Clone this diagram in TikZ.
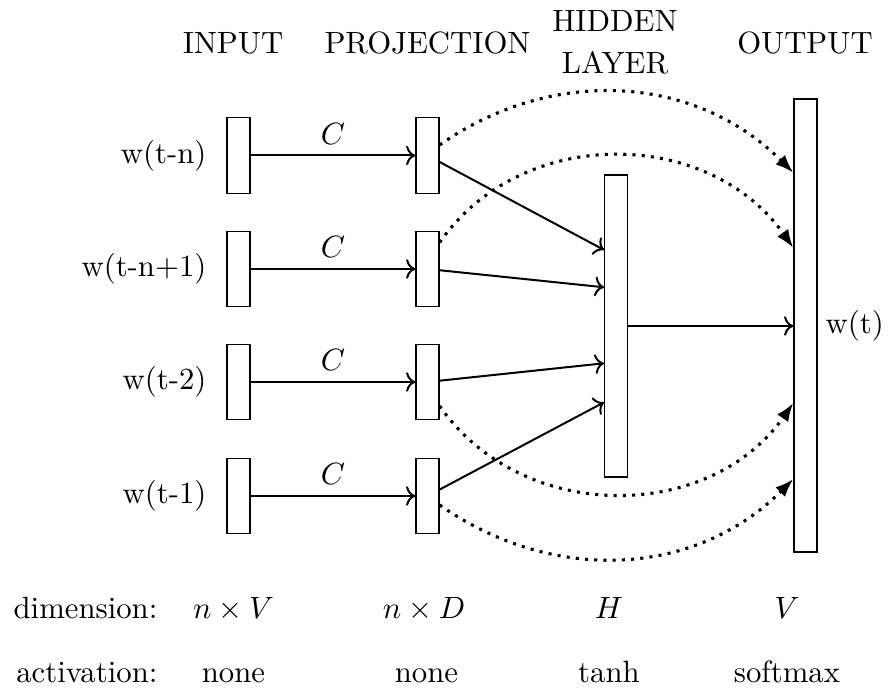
\documentclass[tikz,border=0pt]{standalone}
\usetikzlibrary{arrows.meta,calc}
\begin{document}
\begin{tikzpicture}[x=0.325pt,y=0.325pt,
  unitbox/.style={draw,rectangle,inner sep=0pt,minimum width={23*0.325pt},minimum height={75.5*0.325pt}},
  tallbox/.style={draw,rectangle,inner sep=0pt,minimum width={23*0.325pt},minimum height={#1*0.325pt}},
  arr/.style={->,line width=0.65pt},
  dotarr/.style={dotted,line width=1pt,-{Latex[length=6pt,width=4.4pt]}},
  lbl/.style={inner sep=0pt}
]
\useasboundingbox (0,0) rectangle (893,699);

% headers
\node[anchor=base] (hin) at (233,645.7) {INPUT};
\node[anchor=base] (hpr) at (427.5,645.7) {PROJECTION};
\node[align=center,font=\fontsize{10}{13.45}\selectfont] (hhid) at (615,656.5) {HIDDEN\\LAYER};
\node[anchor=base] (hout) at (805,645.7) {OUTPUT};

% input boxes
\node[unitbox] (i1) at (238.5,543.5) {};
\node[unitbox] (i2) at (238.5,430) {};
\node[unitbox] (i3) at (238.5,317) {};
\node[unitbox] (i4) at (238.5,203) {};

% projection boxes
\node[unitbox] (p1) at (427.5,543.5) {};
\node[unitbox] (p2) at (427.5,430) {};
\node[unitbox] (p3) at (427.5,317) {};
\node[unitbox] (p4) at (427.5,203) {};

% hidden and output
\node[tallbox=302] (h) at (616.2,373) {};
\node[tallbox=453] (o) at (805.5,373.5) {};

% input labels
\node[lbl,anchor=east] (l1) at (207,543.5) {w(t-n)};
\node[lbl,anchor=east] (l2) at (207,430) {w(t-n+1)};
\node[lbl,anchor=east] (l3) at (207,317) {w(t-2)};
\node[lbl,anchor=east] (l4) at (207,203) {w(t-1)};
\node[lbl,anchor=west] (lo) at (825,373) {w(t)};

% input -> projection
\draw[arr] (i1) -- node[above] {$C$} (p1);
\draw[arr] (i2) -- node[above] {$C$} (p2);
\draw[arr] (i3) -- node[above] {$C$} (p3);
\draw[arr] (i4) -- node[above] {$C$} (p4);

% projection -> hidden
\coordinate (h1) at ($(h.west)+(0,76)$);
\coordinate (h2) at ($(h.west)+(0,38.7)$);
\coordinate (h3) at ($(h.west)+(0,-37.3)$);
\coordinate (h4) at ($(h.west)+(0,-76.3)$);
\draw[arr] (p1) -- (h1);
\draw[arr] (p2) -- (h2);
\draw[arr] (p3) -- (h3);
\draw[arr] (p4) -- (h4);

% hidden -> output
\draw[arr] (h.east) -- (h.east -| o.west);

% direct connections (dotted)
\coordinate (s1) at ($(p1.east)+(0,10.5)$);
\coordinate (s2) at ($(p2.east)+(0,26.5)$);
\coordinate (s3) at ($(p3.east)+(0,-24)$);
\coordinate (s4) at ($(p4.east)+(0,-9)$);
\coordinate (e1) at ($(o.west)+(0,152.7)$);
\coordinate (e2) at ($(o.west)+(0,77.5)$);
\coordinate (e3) at ($(o.west)+(0,-77.5)$);
\coordinate (e4) at ($(o.west)+(0,-153.5)$);
\draw[dotarr] (s1) to[out=35,in=135] (e1);
\draw[dotarr] (s2) to[out=55,in=125,looseness=1.05] (e2);
\draw[dotarr] (s3) to[out=-55,in=-125,looseness=1.05] (e3);
\draw[dotarr] (s4) to[out=-35,in=-135] (e4);

% bottom rows
\node[lbl,anchor=base east] (dim) at (158,80.5) {dimension:};
\node[lbl,anchor=base east] (act) at (158,16.5) {activation:};
\node[anchor=base] (d1) at (233.5,80.5) {$n\times V$};
\node[anchor=base] (d2) at (424,80.5) {$n\times D$};
\node[anchor=base] (d3) at (609,80.5) {$H$};
\node[anchor=base] (d4) at (787,80.5) {$V$};
\node[anchor=base] (a1) at (233.5,16.5) {none};
\node[anchor=base] (a2) at (426.5,16.5) {none};
\node[anchor=base] (a3) at (609,16.5) {tanh};
\node[anchor=base] (a4) at (787,16.5) {softmax};
\end{tikzpicture}
\end{document}
